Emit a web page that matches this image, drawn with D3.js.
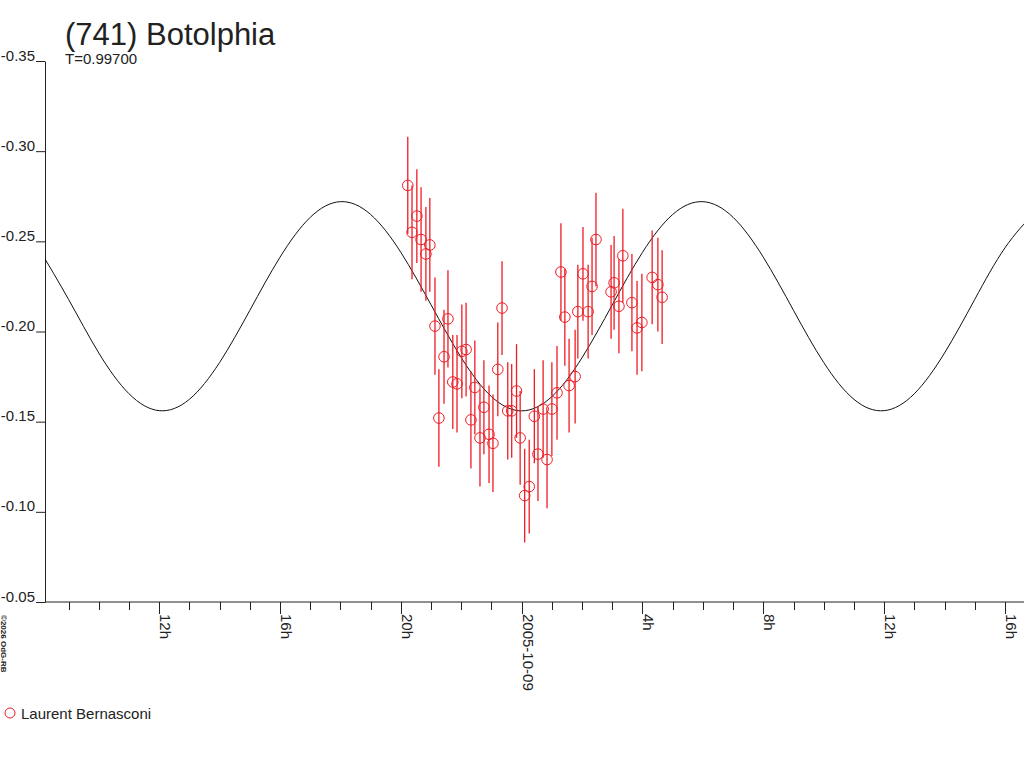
<!DOCTYPE html>
<html>
<head>
<meta charset="utf-8">
<script src="https://cdn.jsdelivr.net/npm/d3@7"></script>
<style>
  html, body { margin: 0; padding: 0; background: #fff; }
  svg { display: block; }
  text { font-family: "Liberation Sans", Arial, sans-serif; fill: #222; }
</style>
</head>
<body>
<svg id="chart" width="1024" height="768"></svg>
<script>
// ---- data (hours relative to 2005-10-09 00:00 UT) ----
const title = "(741) Botolphia";
const subtitle = "T=0.99700";
const observer = "Laurent Bernasconi";
const credit = "\u00a92026 OdG-RB";

const obsHours = [-3.77,-3.63,-3.47,-3.33,-3.17,-3.04,-2.87,-2.74,-2.57,-2.44,
  -2.28,-2.14,-1.98,-1.84,-1.68,-1.55,-1.38,-1.25,-1.08,-0.95,
  -0.79,-0.65,-0.46,-0.33,-0.17,-0.05,0.10,0.25,0.42,0.54,
  0.71,0.84,1.00,1.17,1.30,1.43,1.57,1.77,1.86,2.03,
  2.20,2.33,2.46,2.96,3.06,3.22,3.35,3.65,3.82,3.98,
  4.32,4.51,4.65];
const obsMag = [-0.281,-0.255,-0.264,-0.251,-0.243,-0.248,-0.203,-0.152,-0.186,-0.207,
  -0.172,-0.171,-0.189,-0.190,-0.151,-0.169,-0.141,-0.158,-0.143,-0.138,
  -0.179,-0.213,-0.156,-0.156,-0.167,-0.141,-0.109,-0.114,-0.153,-0.132,
  -0.157,-0.129,-0.157,-0.166,-0.233,-0.208,-0.170,-0.175,-0.211,-0.232,
  -0.211,-0.225,-0.251,-0.222,-0.227,-0.214,-0.242,-0.216,-0.202,-0.205,
  -0.230,-0.226,-0.219];
const obsErr = [0.027,0.026,0.026,0.029,0.026,0.026,0.027,0.027,0.026,0.027,
  0.026,0.027,0.026,0.026,0.027,0.026,0.027,0.026,0.027,0.027,
  0.026,0.026,0.027,0.026,0.026,0.026,0.026,0.026,0.026,0.026,
  0.027,0.027,0.026,0.026,0.027,0.027,0.026,0.026,0.026,0.026,
  0.026,0.027,0.026,0.026,0.026,0.026,0.026,0.027,0.026,0.027,
  0.026,0.026,0.026];

// fitted curve, hourly
const curveHours = [-16,-15,-14,-13,-12,-11,-10,-9,-8,-7,-6,-5,-4,-3,-2,-1,0,
  1,2,3,4,5,6,7,8,9,10,11,12,13,14,15,16,17];
const curveMag = [-0.2464,-0.2178,-0.1881,-0.1655,-0.1561,-0.1624,-0.1828,-0.2117,
  -0.2412,-0.2633,-0.2720,-0.2649,-0.2439,-0.2148,-0.1855,-0.1639,-0.1560,
  -0.1639,-0.1855,-0.2148,-0.2439,-0.2649,-0.2720,-0.2633,-0.2412,-0.2117,
  -0.1828,-0.1624,-0.1561,-0.1655,-0.1881,-0.2178,-0.2464,-0.2663];

const yTicks = [-0.35,-0.30,-0.25,-0.20,-0.15,-0.10,-0.05];
const yTickLabels = ["-0.35","-0.30","-0.25","-0.20","-0.15","-0.10","-0.05"];
const xMajor = [-12,-8,-4,0,4,8,12,16];
const xMajorLabels = ["12h","16h","20h","2005-10-09","4h","8h","12h","16h"];
const xMinor = [-15,-14,-13,-11,-10,-9,-7,-6,-5,-3,-2,-1,1,2,3,5,6,7,9,10,11,13,14,15];

// ---- layout ----
const L = 45, R = 1024, T = 61, B = 602;
const svg = d3.select("#chart");
const x = d3.scaleLinear().domain([-15.78, 16.63]).range([L, R]);
const y = d3.scaleLinear().domain([-0.35, -0.05]).range([T, B]);
const red = "#ee1c24";

svg.append("defs").append("clipPath").attr("id","plot")
  .append("rect").attr("x", L).attr("y", 0).attr("width", R - L).attr("height", B);

// title
svg.append("text").attr("x", 65).attr("y", 45).attr("font-size", 31).text(title);
svg.append("text").attr("x", 65).attr("y", 64).attr("font-size", 15).text(subtitle);

// y axis
const yAxis = d3.axisLeft(y).tickValues(yTicks)
  .tickFormat((d, i) => yTickLabels[i]).tickSize(9).tickSizeOuter(0);
const gy = svg.append("g").attr("transform", `translate(${L},0)`).call(yAxis);
gy.selectAll("path,line").attr("stroke", "#222");
gy.selectAll("text").attr("x", -10).attr("dy", 0).attr("y", -1)
  .attr("font-size", 15).attr("fill", "#222")
  .style("font-family", '"Liberation Sans", Arial, sans-serif');

// x axis
const gx = svg.append("g").attr("transform", `translate(0,${B})`);
gx.append("line").attr("x1", L).attr("x2", R).attr("y1", 0).attr("y2", 0).attr("stroke", "#222");
gx.selectAll("line.minor").data(xMinor).join("line").attr("class","minor")
  .attr("x1", d => Math.round(x(d)) + 0.5).attr("x2", d => Math.round(x(d)) + 0.5)
  .attr("y1", 0).attr("y2", 8).attr("stroke", "#222");
gx.selectAll("line.major").data(xMajor).join("line").attr("class","major")
  .attr("x1", d => Math.round(x(d)) + 0.5).attr("x2", d => Math.round(x(d)) + 0.5)
  .attr("y1", 0).attr("y2", 12).attr("stroke", "#222");
gx.selectAll("text").data(xMajor).join("text")
  .attr("transform", d => `translate(${Math.round(x(d)) + 1},12) rotate(90)`)
  .attr("font-size", 15).attr("text-anchor", "start")
  .text((d, i) => xMajorLabels[i]);

// fitted curve
const line = d3.line().x((d, i) => x(curveHours[i])).y(d => y(d)).curve(d3.curveNatural);
svg.append("path").attr("clip-path", "url(#plot)")
  .attr("d", line(curveMag)).attr("fill", "none").attr("stroke", "#111").attr("stroke-width", 1);

// observations
const idx = d3.range(obsHours.length);
const gp = svg.append("g");
gp.selectAll("line").data(idx).join("line")
  .attr("x1", i => x(obsHours[i])).attr("x2", i => x(obsHours[i]))
  .attr("y1", i => y(obsMag[i] - obsErr[i])).attr("y2", i => y(obsMag[i] + obsErr[i]))
  .attr("stroke", red).attr("stroke-width", 1.3);
gp.selectAll("circle").data(idx).join("circle")
  .attr("cx", i => x(obsHours[i])).attr("cy", i => y(obsMag[i])).attr("r", 5.3)
  .attr("fill", "none").attr("stroke", red).attr("stroke-width", 1);

// credit
svg.append("text").attr("transform", "translate(1,615) rotate(90)")
  .attr("font-size", 8).attr("font-weight", "bold").text(credit);

// legend
svg.append("circle").attr("cx", 10).attr("cy", 713).attr("r", 5)
  .attr("fill", "none").attr("stroke", red);
svg.append("text").attr("x", 21).attr("y", 719).attr("font-size", 15).text(observer);
</script>
</body>
</html>
